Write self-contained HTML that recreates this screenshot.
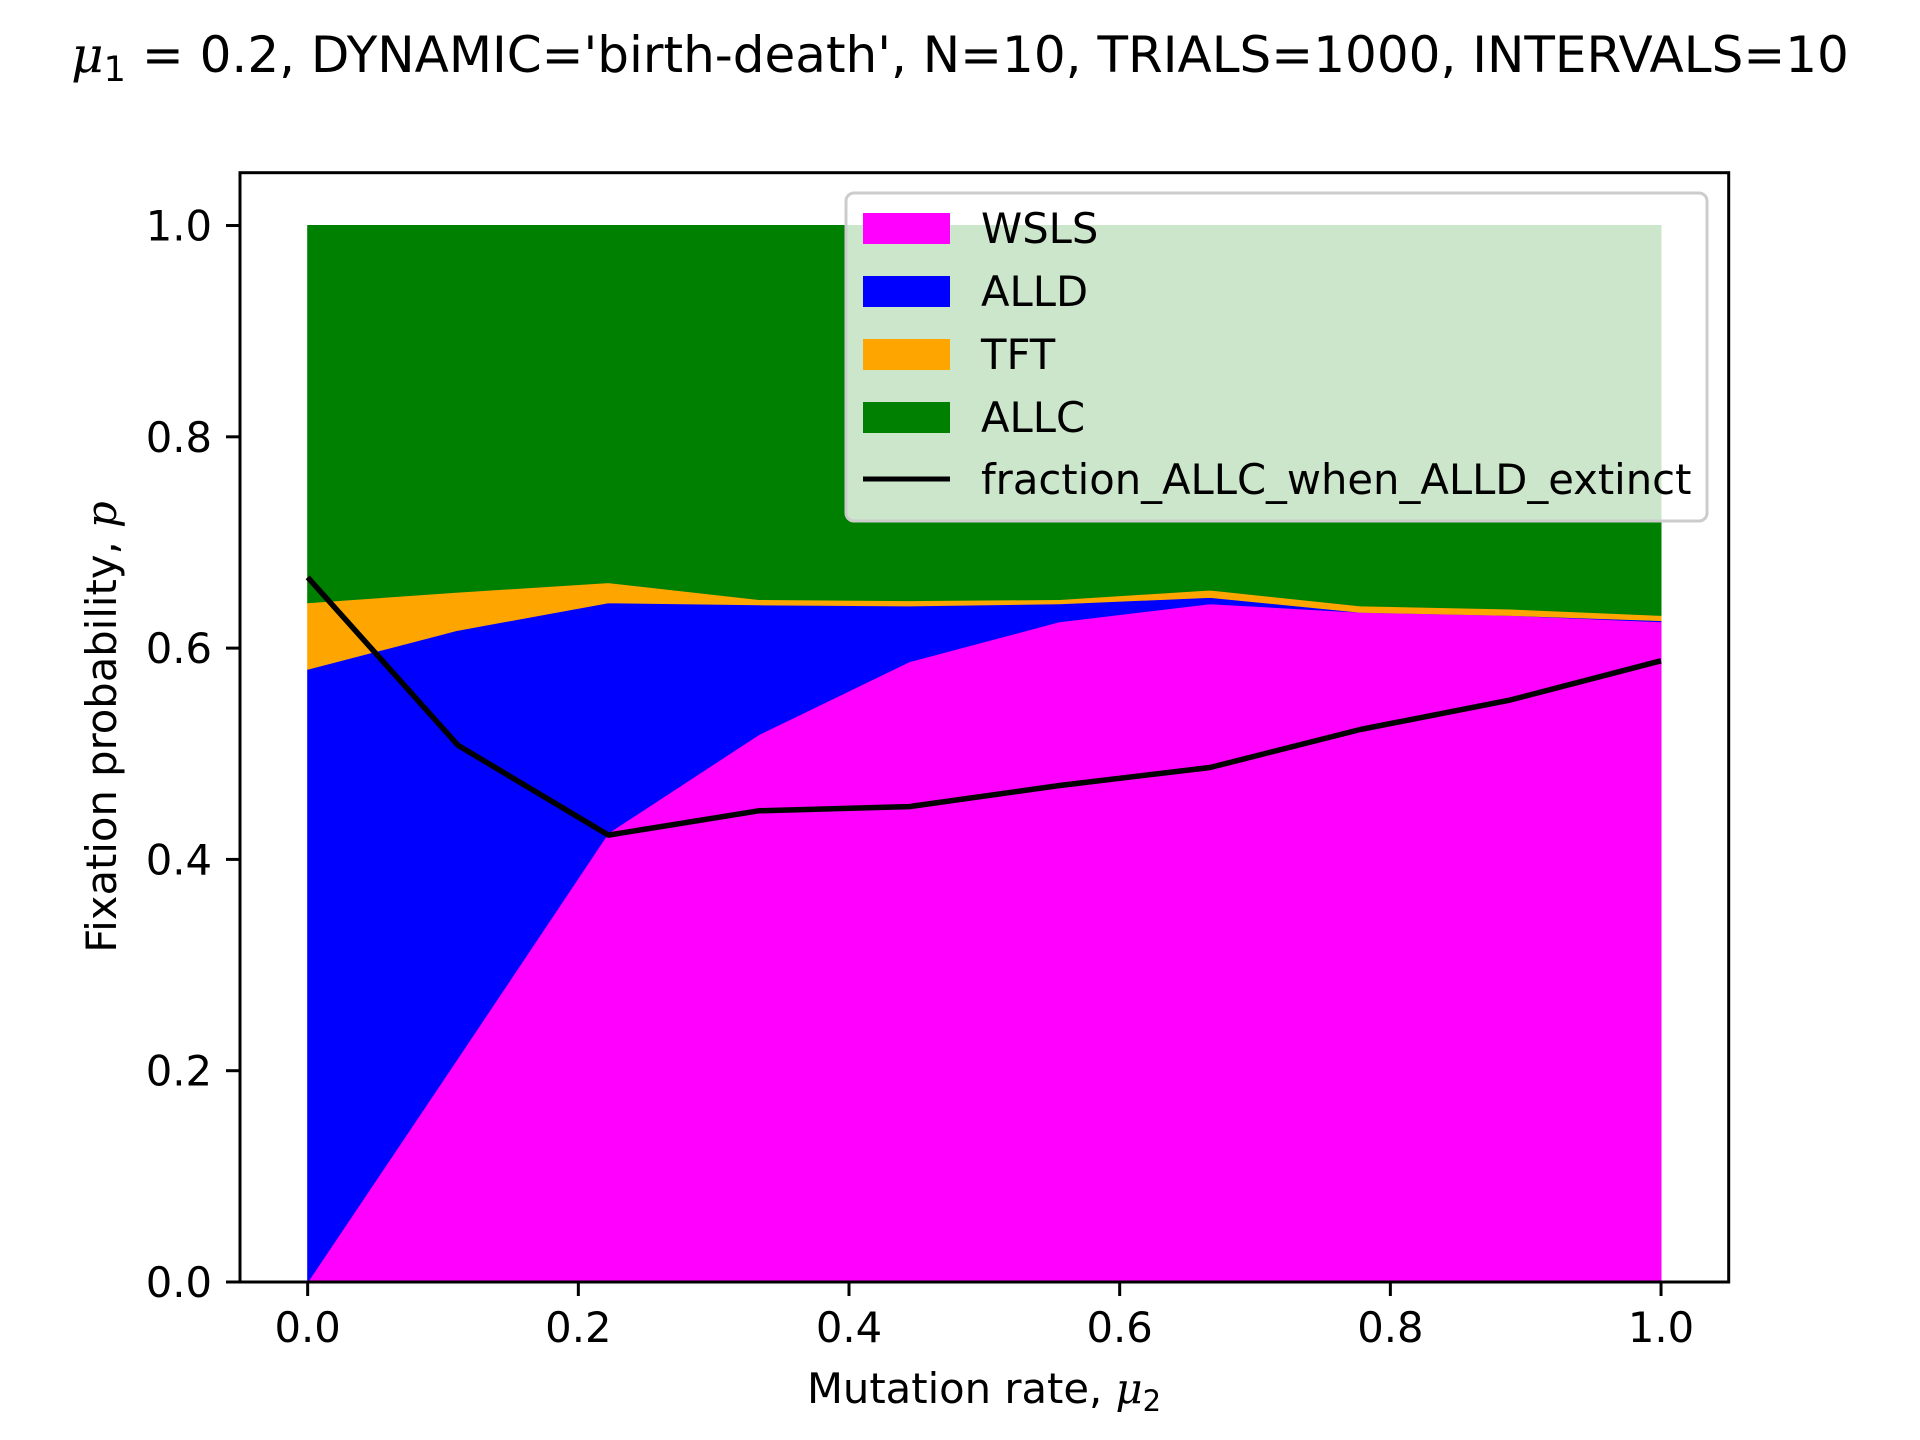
<!DOCTYPE html>
<html><head><meta charset="utf-8"><style>
html,body{margin:0;padding:0;background:#fff;}
svg{display:block;font-family:"DejaVu Sans","Liberation Sans",sans-serif;}
</style></head><body>
<svg id="chart" width="1920" height="1440" viewBox="0 0 1920 1440" xmlns="http://www.w3.org/2000/svg">
<text x="960" y="72" font-size="50" text-anchor="middle"><tspan font-style="italic" font-family="DejaVu Serif, serif">μ</tspan><tspan font-size="35" dy="9">1</tspan><tspan dy="-9"> = 0.2, DYNAMIC='birth-death', N=10, TRIALS=1000, INTERVALS=10</tspan></text>
<g id="areas"></g>
<g id="axes"></g>
<g id="legend">
 <rect x="846" y="193" width="861" height="328" rx="8" fill="#ffffff" fill-opacity="0.8" stroke="#cccccc" stroke-width="3"/>
 <rect x="863" y="213" width="87" height="31" fill="#ff00ff"/>
 <text x="981" y="243" font-size="41.7">WSLS</text>
 <rect x="863" y="276" width="87" height="31" fill="#0000ff"/>
 <text x="981" y="306" font-size="41.7">ALLD</text>
 <rect x="863" y="339" width="87" height="31" fill="#ffa500"/>
 <text x="981" y="369" font-size="41.7">TFT</text>
 <rect x="863" y="402" width="87" height="31" fill="#008000"/>
 <text x="981" y="432" font-size="41.7">ALLC</text>
 <line x1="863" y1="479" x2="950" y2="479" stroke="#000" stroke-width="5"/>
 <text x="981" y="494" font-size="41.7">fraction_ALLC_when_ALLD_extinct</text>
</g>
<text x="984" y="1403" font-size="41.7" text-anchor="middle">Mutation rate, <tspan font-style="italic" font-family="DejaVu Serif, serif">μ</tspan><tspan font-size="29" dy="8">2</tspan></text>
<text transform="translate(116,727) rotate(-90)" font-size="41.7" text-anchor="middle">Fixation probability, <tspan font-style="italic" font-family="DejaVu Serif, serif">p</tspan></text>
</svg>
<script>
const xs = [0, 0.1111, 0.2222, 0.3333, 0.4444, 0.5556, 0.6667, 0.7778, 0.8889, 1.0];
const wsls = [0, 0.212, 0.425, 0.518, 0.587, 0.625, 0.642, 0.634, 0.631, 0.625];
const alld = [0.580, 0.405, 0.218, 0.123, 0.053, 0.017, 0.006, 0.000, 0.000, 0.001];
const tft = [0.063, 0.036, 0.019, 0.005, 0.005, 0.004, 0.007, 0.006, 0.006, 0.005];
const allc = [0.357, 0.347, 0.338, 0.354, 0.355, 0.354, 0.345, 0.360, 0.363, 0.369];
const fractionLine = [0.667, 0.508, 0.423, 0.446, 0.450, 0.470, 0.487, 0.523, 0.551, 0.588];
const xTicks = [0, 0.2, 0.4, 0.6, 0.8, 1.0];
const xTickLabels = ["0.0","0.2","0.4","0.6","0.8","1.0"];
const yTicks = [0, 0.2, 0.4, 0.6, 0.8, 1.0];
const yTickLabels = ["0.0","0.2","0.4","0.6","0.8","1.0"];

const NS = "http://www.w3.org/2000/svg";
const L = 240, R = 1728.7, T = 172.7, B = 1282;
const xMin = -0.05, xMax = 1.05, yMin = 0, yMax = 1.05;
function sx(v){ return L + (v - xMin) / (xMax - xMin) * (R - L); }
function sy(v){ return B - (v - yMin) / (yMax - yMin) * (B - T); }
function mk(tag, attrs, parent){ const e = document.createElementNS(NS, tag); for (const k in attrs) e.setAttribute(k, attrs[k]); parent.appendChild(e); return e; }

const areas = document.getElementById('areas');
const series = [["wsls", wsls, "#ff00ff"], ["alld", alld, "#0000ff"], ["tft", tft, "#ffa500"], ["allc", allc, "#008000"]];
let base = xs.map(() => 0);
series.forEach(([name, vals, col]) => {
  const top = base.map((b, i) => b + vals[i]);
  let d = xs.map((x, i) => (i ? "L" : "M") + sx(x).toFixed(1) + "," + sy(top[i]).toFixed(1)).join(" ");
  for (let i = xs.length - 1; i >= 0; i--) d += " L" + sx(xs[i]).toFixed(1) + "," + sy(base[i]).toFixed(1);
  const p = mk('path', {d: d + " Z", fill: col, stroke: col, 'stroke-width': 1}, areas);
  
  
  base = top;
});
const ln = mk('polyline', {points: xs.map((x, i) => sx(x).toFixed(1) + "," + sy(fractionLine[i]).toFixed(1)).join(" "), fill: "none", stroke: "#000", 'stroke-width': 5.5, 'stroke-linejoin': 'round'}, areas);



const axes = document.getElementById('axes');
const frame = mk('rect', {x: L, y: T, width: R - L, height: B - T, fill: "none", stroke: "#000", 'stroke-width': 3}, axes);


xTicks.forEach((v, i) => {
  const t = mk('line', {x1: sx(v), y1: B, x2: sx(v), y2: B + 14, stroke: "#000", 'stroke-width': 3}, axes);
  
  
  const tx = mk('text', {x: sx(v), y: B + 60, 'font-size': 41.7, 'text-anchor': 'middle'}, axes);
  tx.textContent = xTickLabels[i];
  
  
});
yTicks.forEach((v, i) => {
  const t = mk('line', {x1: L - 14, y1: sy(v), x2: L, y2: sy(v), stroke: "#000", 'stroke-width': 3}, axes);
  
  
  const tx = mk('text', {x: L - 28, y: sy(v) + 15, 'font-size': 41.7, 'text-anchor': 'end'}, axes);
  tx.textContent = yTickLabels[i];
  
  
});
</script>
</body></html>
